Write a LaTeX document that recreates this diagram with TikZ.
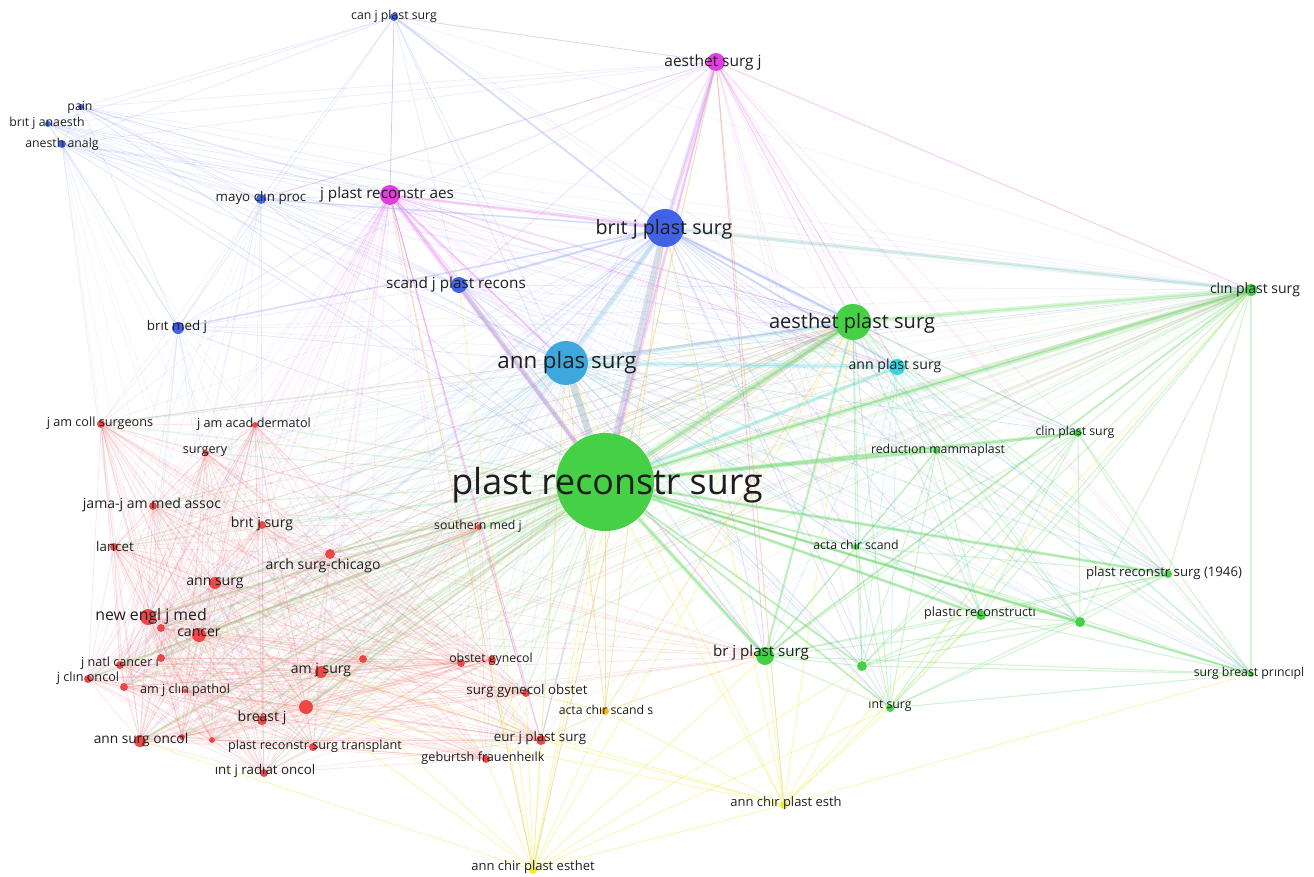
\documentclass[tikz,border=0pt]{standalone}
\usepackage{fontspec}
\setmainfont{Open Sans}
\usetikzlibrary{backgrounds}
\definecolor{vred}{RGB}{236,72,72}
\definecolor{vgreen}{RGB}{70,208,70}
\definecolor{vblue}{RGB}{66,98,230}
\definecolor{vlblue}{RGB}{62,168,220}
\definecolor{vcyan}{RGB}{52,214,222}
\definecolor{vmag}{RGB}{224,62,224}
\definecolor{vyel}{RGB}{236,236,50}
\definecolor{vorange}{RGB}{238,186,50}
\definecolor{labelgray}{RGB}{30,30,30}
\begin{document}
\begin{tikzpicture}[x=0.02cm, y=-0.02cm,
    dot/.style 2 args={circle, fill=#1, draw=none, minimum size=#2*0.4mm, inner sep=0pt},
    lbl/.style={text=labelgray, inner sep=0pt, font=\fontsize{#1}{#1}\selectfont},
    ered/.style={draw=vred!80, draw opacity=.17, line width=.4pt},
    egreen/.style={draw=vgreen!85, draw opacity=.28, line width=.6pt},
    eblue/.style={draw=vblue!75, draw opacity=.18, line width=.4pt},
    emag/.style={draw=vmag!85, draw opacity=.2, line width=.4pt},
    elb/.style={draw=vlblue, draw opacity=.18, line width=.4pt},
    ecyan/.style={draw=vcyan, draw opacity=.3, line width=.5pt},
    eyel/.style={draw=vyel, draw opacity=.35, line width=.5pt},
    strong/.style={line width=#1, draw opacity=.3}]
\useasboundingbox (0,0) rectangle (1314,876);
% main journals
\node[dot={vgreen}{49}] (prs) at (605,482) {};
\node[dot={vlblue}{22}] (aps) at (566,363) {};
\node[dot={vblue}{19}] (bjps) at (665,228) {};
\node[dot={vgreen}{18}] (aeps) at (853,322) {};
\node[dot={vblue}{8}] (sjpr) at (459,285) {};
\node[dot={vmag}{10}] (jpra) at (390,195) {};
\node[dot={vmag}{9}] (asj) at (716,62) {};
\node[dot={vcyan}{8}] (anps) at (897,367) {};
\node[dot={vgreen}{6}] (cps) at (1251,290) {};
% blue cluster
\node[dot={vblue}{4}] (cjps) at (394,17) {};
\node[dot={vblue}{3}] (pain) at (81,107) {};
\node[dot={vblue}{3}] (bja) at (48,124) {};
\node[dot={vblue}{4}] (aa) at (62,144) {};
\node[dot={vblue}{5}] (mcp) at (261,199) {};
\node[dot={vblue}{6}] (bmj) at (178,328) {};
% red cluster
\node[dot={vred}{4}] (jacs) at (101,424) {};
\node[dot={vred}{3}] (jaad) at (255,425) {};
\node[dot={vred}{3}] (surgery) at (206,453) {};
\node[dot={vred}{4}] (jama) at (153,506) {};
\node[dot={vred}{4}] (bjs) at (262,525) {};
\node[dot={vred}{4}] (lancet) at (114,547) {};
\node[dot={vred}{5}] (asc) at (330,554) {};
\node[dot={vred}{6}] (annsurg) at (215,583) {};
\node[dot={vred}{8}] (nejm) at (148,617) {};
\node[dot={vred}{4}] (ra) at (161,628) {};
\node[dot={vred}{7}] (cancer) at (199,635) {};
\node[dot={vred}{4}] (jnci) at (120,665) {};
\node[dot={vred}{4}] (rb) at (161,658) {};
\node[dot={vred}{4}] (jco) at (88,679) {};
\node[dot={vred}{4}] (rc) at (124,687) {};
\node[dot={vred}{2}] (ajcp) at (185,691) {};
\node[dot={vred}{6}] (ajs) at (321,672) {};
\node[dot={vred}{4}] (rd) at (363,659) {};
\node[dot={vred}{7}] (re) at (306,707) {};
\node[dot={vred}{5}] (breastj) at (262,720) {};
\node[dot={vred}{6}] (aso) at (140,741) {};
\node[dot={vred}{3}] (rf) at (182,737) {};
\node[dot={vred}{3}] (rg) at (212,740) {};
\node[dot={vred}{4}] (prst) at (313,747) {};
\node[dot={vred}{4}] (ijro) at (264,773) {};
\node[dot={vred}{3}] (smj) at (479,527) {};
\node[dot={vred}{4}] (rh) at (461,663) {};
\node[dot={vred}{4}] (obgyn) at (492,660) {};
\node[dot={vred}{4}] (sgo) at (526,693) {};
\node[dot={vred}{5}] (eur) at (541,740) {};
\node[dot={vred}{4}] (geb) at (486,759) {};
% yellow cluster
\node[dot={vorange}{4}] (acss) at (605,711) {};
\node[dot={vyel}{4}] (acpe) at (533,870) {};
\node[dot={vyel}{4}] (acpe2) at (784,805) {};
% green cluster
\node[dot={vgreen}{4}] (cpss) at (1078,433) {};
\node[dot={vgreen}{3}] (redm) at (936,451) {};
\node[dot={vgreen}{3}] (acs) at (856,547) {};
\node[dot={vgreen}{4}] (prs46) at (1168,574) {};
\node[dot={vgreen}{5}] (plrec) at (981,615) {};
\node[dot={vgreen}{5}] (gi) at (1080,622) {};
\node[dot={vgreen}{9}] (brjps) at (765,656) {};
\node[dot={vgreen}{5}] (gj) at (862,666) {};
\node[dot={vgreen}{4}] (intsurg) at (890,708) {};
\node[dot={vgreen}{3}] (sbp) at (1251,674) {};
\def\redset{jacs,jaad,surgery,jama,bjs,lancet,asc,annsurg,nejm,ra,cancer,jnci,rb,jco,rc,ajcp,ajs,rd,re,breastj,aso,rf,rg,prst,ijro,smj,rh,obgyn,sgo,eur,geb}
\def\greenset{prs,aeps,cps,cpss,redm,acs,prs46,plrec,gi,brjps,gj,intsurg,sbp}
\def\blueset{bjps,sjpr,cjps,pain,bja,aa,mcp,bmj}
\begin{pgfonlayer}{background}
\fill[white] (0,0) rectangle (1314,876);
% red web
\foreach \a [count=\i] in \redset {
  \foreach \b [count=\j] in \redset {
    \ifnum\i<\j \draw[ered] (\a) -- (\b); \fi
  }
}
% green web
\foreach \a [count=\i] in \greenset {
  \foreach \b [count=\j] in \greenset {
    \ifnum\i<\j \draw[egreen] (\a) -- (\b); \fi
  }
}
% blue web
\foreach \a [count=\i] in \blueset {
  \foreach \b [count=\j] in \blueset {
    \ifnum\i<\j \draw[eblue] (\a) -- (\b); \fi
  }
}
% hubs to the red side
\foreach \n in \redset {
  \draw[egreen, draw opacity=.22] (prs) -- (\n);
  \draw[egreen, draw opacity=.1] (aeps) -- (\n);
  \draw[egreen, draw opacity=.08] (cps) -- (\n);
  \draw[emag, draw opacity=.12] (jpra) -- (\n);
  \draw[eblue, draw opacity=.1] (bjps) -- (\n);
  \draw[elb, draw opacity=.12] (aps) -- (\n);
}
\foreach \n in {asc,annsurg,nejm,bjs,cancer,ajs,re,breastj,aso,jama,lancet,jacs} {
  \draw[ered, draw opacity=.22] (\n) -- (aeps);
  \draw[ered, draw opacity=.18] (\n) -- (brjps);
  \draw[ered, draw opacity=.12] (\n) -- (cps);
}
\foreach \n in {jacs,jaad,surgery,jama,bjs,lancet,nejm,annsurg,aso,ijro} {
  \draw[eblue, draw opacity=.12] (bmj) -- (\n);
  \draw[eblue, draw opacity=.1] (mcp) -- (\n);
  \draw[eblue, draw opacity=.08] (aa) -- (\n);
}
% hubs to the green side
\foreach \n in {aeps,cps,cpss,redm,acs,prs46,plrec,gi,brjps,gj,intsurg,sbp,anps} {
  \draw[eblue, draw opacity=.25] (bjps) -- (\n);
  \draw[elb, draw opacity=.25] (aps) -- (\n);
  \draw[emag, draw opacity=.15] (asj) -- (\n);
  \draw[emag, draw opacity=.12] (jpra) -- (\n);
  \draw[eblue, draw opacity=.15] (sjpr) -- (\n);
  \draw[ecyan, draw opacity=.2] (anps) -- (\n);
  \draw[egreen, line width=1.2pt, draw opacity=.22] (prs) -- (\n);
}
% blue journals to the hubs
\foreach \n in {cjps,pain,bja,aa,mcp,bmj} {
  \draw[eblue, draw opacity=.22] (\n) -- (prs);
  \draw[eblue, draw opacity=.2] (\n) -- (aps);
  \draw[eblue, draw opacity=.2] (\n) -- (jpra);
  \draw[eblue, draw opacity=.15] (\n) -- (asj);
  \draw[eblue, draw opacity=.15] (\n) -- (aeps);
  \draw[eblue, draw opacity=.1] (\n) -- (cps);
  \draw[eblue, draw opacity=.1] (\n) -- (anps);
}
% magenta journals
\foreach \n in {prs,aps,bjps,aeps,sjpr,jpra,anps,cps,cjps,brjps,acpe,acpe2,eur,mcp} {
  \draw[emag, draw opacity=.25] (asj) -- (\n);
}
\foreach \n in {prs,aps,bjps,aeps,sjpr,anps,cjps,brjps,acpe,eur,sgo} {
  \draw[emag, draw opacity=.25] (jpra) -- (\n);
}
% yellow journals
\foreach \n in {prs,aps,bjps,aeps,brjps,eur,sgo,acss,acpe2,jpra,asj,sjpr,ajs,re,aso,geb,obgyn,intsurg,gj} {
  \draw[eyel] (acpe) -- (\n);
}
\foreach \n in {prs,aps,bjps,aeps,brjps,intsurg,gj,acss,sbp,plrec,eur,asj,cps,re,ajs} {
  \draw[eyel] (acpe2) -- (\n);
}
\foreach \n in {prs,aps,bjps,eur,sgo,brjps,aeps} {
  \draw[eyel, draw=vorange] (acss) -- (\n);
}
% strong links
\draw[strong=3.4pt, draw=vgreen!70] (prs) -- (aeps);
\draw[strong=3pt, draw=vgreen!70] (prs) -- (cps);
\draw[strong=2.4pt, draw=vgreen!70] (prs) -- (brjps);
\draw[strong=2pt, draw=vgreen!70] (prs) -- (redm);
\draw[strong=1.8pt, draw=vgreen!70] (prs) -- (prs46);
\draw[strong=1.8pt, draw=vgreen!70] (prs) -- (plrec);
\draw[strong=1.8pt, draw=vgreen!70] (prs) -- (cpss);
\draw[strong=1.4pt, draw=vgreen!70] (prs) -- (gi);
\draw[strong=2.6pt, draw=vgreen!70] (aeps) -- (cps);
\draw[strong=1.4pt, draw=vgreen!70] (aeps) -- (brjps);
\draw[strong=1.2pt, draw=vgreen!70] (cps) -- (brjps);
\draw[strong=4pt, draw=gray!60!vlblue] (prs) -- (aps);
\draw[strong=4pt, draw=gray!50!vblue!70] (prs) -- (bjps);
\draw[strong=2.6pt, draw=vlblue!70] (aps) -- (bjps);
\draw[strong=2.6pt, draw=vcyan!70] (aps) -- (anps);
\draw[strong=2.2pt, draw=vcyan!70] (prs) -- (anps);
\draw[strong=2pt, draw=vlblue!70] (aps) -- (aeps);
\draw[strong=1.8pt, draw=vblue!55] (bjps) -- (aeps);
\draw[strong=2.2pt, draw=vlblue!50!vgreen!60] (bjps) -- (cps);
\draw[strong=1.2pt, draw=vblue!55] (bjps) -- (anps);
\draw[strong=2.4pt, draw=vmag!55!vblue!60] (asj) -- (bjps);
\draw[strong=1.4pt, draw=vmag!60] (asj) -- (prs);
\draw[strong=2.4pt, draw=vmag!60] (jpra) -- (prs);
\draw[strong=1.6pt, draw=vmag!60] (jpra) -- (bjps);
\draw[strong=1.2pt, draw=vmag!60] (jpra) -- (aps);
\draw[strong=2.6pt, draw=gray!50!vblue!70] (sjpr) -- (prs);
\draw[strong=1.4pt, draw=vblue!60] (sjpr) -- (bjps);
\draw[strong=1.2pt, draw=vblue!50] (cjps) -- (bjps);
\draw[strong=1pt, draw=vblue!50] (mcp) -- (bjps);
\draw[strong=1pt, draw=vblue!50] (bmj) -- (bjps);
\draw[strong=1.6pt, draw=vred!50!vgreen!60] (nejm) -- (prs);
\draw[strong=1.4pt, draw=vred!50!vgreen!60] (aso) -- (prs);
\draw[strong=1.4pt, draw=vred!50!vgreen!60] (re) -- (prs);
\draw[strong=1.2pt, draw=vred!50!vgreen!60] (asc) -- (prs);
\draw[strong=1.2pt, draw=vred!50!vgreen!60] (cancer) -- (prs);
\end{pgfonlayer}
% labels
\node[lbl=20.4] (prs-t) at (607,485) {plast reconstr surg};
\node[lbl=12.7] (aps-t) at (567,363) {ann plas surg};
\node[lbl=11.2] (bjps-t) at (664,229) {brıt j plast surg};
\node[lbl=11.4] (aeps-t) at (852,323) {aesthet plast surg};
\node[lbl=8.7] (sjpr-t) at (456,285) {scand j plast recons};
\node[lbl=8.7] (jpra-t) at (387,195) {j plast reconstr aes};
\node[lbl=8.8] (asj-t) at (713,62) {aesthet surg j};
\node[lbl=8] (anps-t) at (895,366) {ann plast surg};
\node[lbl=8] (cps-t) at (1255,290) {clın plast surg};
\node[lbl=7] (cjps-t) at (394,16) {can j plast surg};
\node[lbl=7] (pain-t) at (80,107) {pain};
\node[lbl=7] (bja-t) at (47,123) {brıt j anaesth};
\node[lbl=7] (aa-t) at (62,144) {anesth analg};
\node[lbl=7.6] (mcp-t) at (261,198) {mayo clın proc};
\node[lbl=7.6] (bmj-t) at (177,327) {brıt med j};
\node[lbl=7.2] (jacs-t) at (100,423) {j am coll surgeons};
\node[lbl=7.2] (jaad-t) at (254,424) {j am acad dermatol};
\node[lbl=7.2] (surgery-t) at (205,452) {surgery};
\node[lbl=8] (jama-t) at (152,505) {jama-j am med assoc};
\node[lbl=8] (bjs-t) at (262,524) {brıt j surg};
\node[lbl=7.6] (lancet-t) at (115,546) {lancet};
\node[lbl=8] (asc-t) at (323,566) {arch surg-chicago};
\node[lbl=8] (annsurg-t) at (215,583) {ann surg};
\node[lbl=9] (nejm-t) at (151,616) {new engl j med};
\node[lbl=8] (cancer-t) at (199,633) {cancer};
\node[lbl=7.2] (jnci-t) at (120,663) {j natl cancer ı};
\node[lbl=7.2] (jco-t) at (88,678) {j clın oncol};
\node[lbl=7.2] (ajcp-t) at (185,690) {am j clın pathol};
\node[lbl=8] (ajs-t) at (321,670) {am j surg};
\node[lbl=8] (breastj-t) at (262,718) {breast j};
\node[lbl=7.8] (aso-t) at (141,740) {ann surg oncol};
\node[lbl=7.2] (prst-t) at (315,746) {plast reconstr surg transplant};
\node[lbl=7.6] (ijro-t) at (265,771) {ınt j radıat oncol};
\node[lbl=7] (smj-t) at (478,526) {southern med j};
\node[lbl=7] (obgyn-t) at (491,659) {obstet gynecol};
\node[lbl=7.6] (sgo-t) at (527,691) {surg gynecol obstet};
\node[lbl=7] (acss-t) at (606,710) {acta chır scand s};
\node[lbl=7.6] (eur-t) at (540,738) {eur j plast surg};
\node[lbl=7.2] (geb-t) at (483,758) {geburtsh frauenheılk};
\node[lbl=7.4] (acpe-t) at (533,867) {ann chir plast esthet};
\node[lbl=7.4] (acpe2-t) at (786,803) {ann chır plast esth};
\node[lbl=7] (cpss-t) at (1075,432) {clin plast surg};
\node[lbl=7] (redm-t) at (938,450) {reductıon mammaplast};
\node[lbl=7] (acs-t) at (856,545) {acta chir scand};
\node[lbl=7.5] (prs46-t) at (1164,573) {plast reconstr surg (1946)};
\node[lbl=7.2] (plrec-t) at (980,613) {plastıc reconstructı};
\node[lbl=8.6] (brjps-t) at (761,653) {br j plast surg};
\node[lbl=7] (intsurg-t) at (890,706) {ınt surg};
\node[lbl=7] (sbp-t) at (1249,673) {surg breast prıncıpl};
\end{tikzpicture}
\end{document}
